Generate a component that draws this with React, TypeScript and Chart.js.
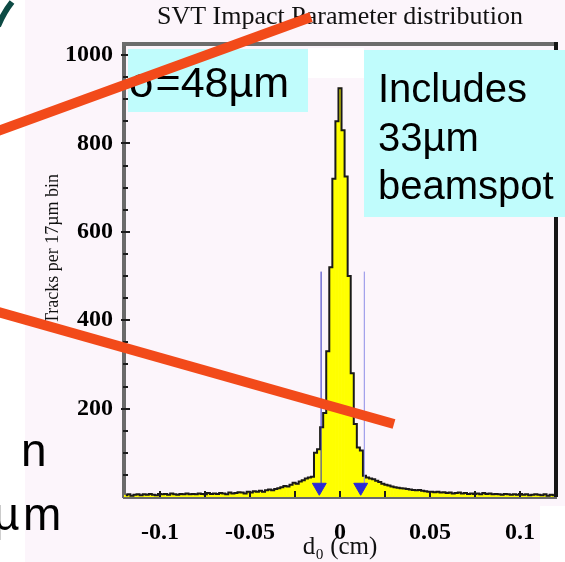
import React, { useEffect, useRef } from "react";
import { Chart, registerables } from "chart.js";

Chart.register(...registerables);

const CHART_TITLE = "SVT Impact Parameter distribution";
const X_AXIS_TITLE = "d₀ (cm)";
const Y_AXIS_TITLE = "Tracks per 17µm bin";

// 141 bins of 17 µm (0.0017 cm), first bin centred at -0.119 cm
const BIN_WIDTH_CM = 0.0017;
const FIRST_BIN_CENTER_CM = -0.119;
const trackCounts = [
  // -70 .. -60
  4, 6, 3, 5, 6, 4, 6, 5, 7, 5, 4,
  // -59 .. -50
  7, 6, 7, 5, 8, 6, 5, 7, 6, 8,
  // -49 .. -40
  6, 7, 6, 8, 7, 6, 9, 7, 8, 7,
  // -39 .. -30
  9, 8, 6, 10, 8, 9, 11, 10, 8, 12,
  // -29 .. -20
  10, 13, 12, 14, 12, 15, 17, 15, 18, 20,
  // -19 .. -9
  22, 25, 24, 28, 32, 30, 35, 38, 42, 44, 46,
  // -8 .. 8
  100, 108, 158, 190, 330, 520, 720, 850, 925, 830, 725, 500, 280, 165, 112, 105, 48,
  // 9 .. 19
  44, 42, 40, 37, 34, 30, 28, 26, 24, 22, 21,
  // 20 .. 30
  20, 19, 18, 17, 16, 15, 16, 14, 13, 12, 12,
  // 31 .. 41
  11, 12, 10, 11, 9, 10, 8, 9, 10, 8, 9,
  // 42 .. 50
  7, 8, 7, 8, 6, 9, 7, 8, 6,
  // 51 .. 60
  7, 6, 5, 7, 6, 5, 6, 5, 7, 5,
  // 61 .. 70
  6, 4, 5, 6, 5, 4, 6, 3, 5, 4,
];

const xTickValues = [-0.1, -0.05, 0, 0.05, 0.1];
const yTickValues = [200, 400, 600, 800, 1000];
const X_MIN = -0.12;
const X_MAX = 0.12;
const Y_MIN = 0;
const Y_MAX = 1025;

const cutLineX = [-0.0105, 0.0135];
const cutLineY = [20, 510];
const cutMarkerX = [-0.0115, 0.0115];
const cutMarkerY = [22, 22];

const sigmaNote = "σ=48µm";
const beamspotNote = ["Includes", "33µm", "beamspot"];
const slideFragments = ["n", "µ", "m"];

const FONT_SERIF = "'Liberation Serif', 'Times New Roman', serif";
const FONT_SANS = "'Liberation Sans', Arial, sans-serif";
const PINK = "#fcf5fb";
const CYAN = "#c0fcfc";
const RED = "#f24a1a";

const decorPlugin = {
  id: "decor",
  beforeDraw(chart: any) {
    const { ctx, width, height } = chart;
    ctx.save();
    ctx.fillStyle = "#ffffff";
    ctx.fillRect(0, 0, width, height);
    ctx.fillStyle = PINK;
    ctx.fillRect(25, 0, width - 25, 506);
    ctx.fillRect(25, 506, 540 - 25, height - 506);
    ctx.restore();
  },
  afterDraw(chart: any) {
    const { ctx, chartArea: a, scales } = chart;
    const ys = scales.y;
    const xs = scales.x;
    ctx.save();
    // frame top / right
    ctx.lineCap = "butt";
    ctx.strokeStyle = "#6c6c6c";
    ctx.lineWidth = 4;
    ctx.beginPath();
    ctx.moveTo(a.left - 2, a.top);
    ctx.lineTo(a.right, a.top);
    ctx.stroke();
    ctx.strokeStyle = "#151515";
    ctx.beginPath();
    ctx.moveTo(a.right, a.top - 2);
    ctx.lineTo(a.right, a.bottom);
    ctx.stroke();
    // y tick marks (inward)
    ctx.strokeStyle = "#1c1c1c";
    ctx.lineWidth = 2;
    for (let v = 50; v <= 1000; v += 50) {
      const py = Math.round(ys.getPixelForValue(v));
      const major = v % 200 === 0;
      ctx.beginPath();
      ctx.moveTo(a.left - (major ? 3 : 1), py);
      ctx.lineTo(a.left + (major ? 6 : 4), py);
      ctx.stroke();
    }
    // x tick marks (inward)
    for (let i = -4; i <= 4; i++) {
      const px = Math.round(xs.getPixelForValue(i * 0.025));
      ctx.beginPath();
      ctx.moveTo(px, a.bottom);
      ctx.lineTo(px, a.bottom - 6);
      ctx.stroke();
    }
    // white strip and text boxes
    ctx.fillStyle = "#ffffff";
    ctx.fillRect(308, 48, 56, 30);
    ctx.fillStyle = CYAN;
    ctx.fillRect(128, 49, 180, 63);
    ctx.fillRect(364, 50, 201, 167);
    ctx.fillStyle = "#000000";
    ctx.textAlign = "left";
    ctx.textBaseline = "alphabetic";
    ctx.font = `43px ${FONT_SANS}`;
    ctx.fillText(sigmaNote, 129, 97);
    ctx.font = `40px ${FONT_SANS}`;
    const baselines = [102, 151, 199];
    beamspotNote.forEach((t, i) => ctx.fillText(t, 378, baselines[i]));
    // slide fragments at left
    ctx.font = `46px ${FONT_SANS}`;
    ctx.fillText(slideFragments[0], 21, 466);
    ctx.fillText(slideFragments[1], -7, 530);
    ctx.fillText(slideFragments[2], 23, 530);
    // y axis title
    ctx.save();
    ctx.translate(58, 249);
    ctx.rotate(-Math.PI / 2);
    ctx.font = `18px ${FONT_SERIF}`;
    ctx.textAlign = "center";
    ctx.fillStyle = "#111111";
    ctx.fillText(Y_AXIS_TITLE, 0, 0);
    ctx.restore();
    // red lines
    ctx.strokeStyle = RED;
    ctx.lineWidth = 10;
    ctx.beginPath();
    ctx.moveTo(-2, 131);
    ctx.lineTo(311, 17);
    ctx.stroke();
    ctx.beginPath();
    ctx.moveTo(-2, 312);
    ctx.lineTo(394, 424);
    ctx.stroke();
    // green curve fragment
    ctx.strokeStyle = "#0d4a44";
    ctx.lineWidth = 6;
    ctx.beginPath();
    ctx.moveTo(-2, 26);
    ctx.quadraticCurveTo(4, 12, 12, 2);
    ctx.stroke();
    ctx.restore();
  },
};

export default function App() {
  const canvasRef = useRef<HTMLCanvasElement | null>(null);

  useEffect(() => {
    const canvas = canvasRef.current;
    if (!canvas) return;
    const histData = trackCounts.map((c, i) => ({
      x: FIRST_BIN_CENTER_CM + i * BIN_WIDTH_CM,
      y: c,
    }));
    const tickFont = { family: FONT_SERIF, size: 24, weight: "bold" as const };

    const chart = new Chart(canvas, {
      type: "bar",
      data: {
        datasets: [
          {
            type: "scatter" as any,
            data: cutMarkerX.map((x, i) => ({ x, y: cutMarkerY[i] })),
            pointStyle: "triangle",
            rotation: 180,
            radius: 8,
            backgroundColor: "#2a2ad6",
            borderColor: "#2a2ad6",
            order: 0,
          } as any,
          {
            type: "line" as any,
            data: cutLineY.map((y) => ({ x: cutLineX[0], y })),
            borderColor: "#2c2cc0",
            borderWidth: 1,
            pointRadius: 0,
            fill: false,
            order: 1,
          } as any,
          {
            type: "line" as any,
            data: cutLineY.map((y) => ({ x: cutLineX[1], y })),
            borderColor: "#8c8ce8",
            borderWidth: 1,
            pointRadius: 0,
            fill: false,
            order: 1,
          } as any,
          {
            type: "line" as any,
            data: histData,
            stepped: "middle",
            borderColor: "#1a1a1a",
            borderWidth: 2,
            pointRadius: 0,
            fill: false,
            order: 2,
          } as any,
          {
            type: "bar",
            data: histData,
            backgroundColor: "#ffff00",
            borderWidth: 0,
            barPercentage: 1,
            categoryPercentage: 1,
            order: 3,
          } as any,
        ],
      },
      options: {
        responsive: false,
        animation: false,
        devicePixelRatio: 1,
        layout: { padding: { left: 22, right: 9, top: 0, bottom: 0 } },
        plugins: {
          legend: { display: false },
          tooltip: { enabled: false },
          title: {
            display: true,
            text: CHART_TITLE,
            fullSize: false,
            color: "#111111",
            font: { family: FONT_SERIF, size: 26, weight: "normal" },
            padding: { top: 1.6, bottom: 11.2 },
          },
        },
        scales: {
          x: {
            type: "linear",
            min: X_MIN,
            max: X_MAX,
            offset: false,
            afterBuildTicks: (s: any) => {
              s.ticks = xTickValues.map((v) => ({ value: v }));
            },
            afterFit: (s: any) => {
              s.height = 65;
            },
            grid: { display: true, drawOnChartArea: false, drawTicks: false, offset: false },
            border: { display: true, color: "#6a6a6a", width: 3 },
            ticks: {
              color: "#000000",
              font: tickFont,
              padding: 21,
              maxRotation: 0,
              autoSkip: false,
              callback: (v: any) => String(v),
            },
            title: {
              display: true,
              text: X_AXIS_TITLE,
              color: "#111111",
              font: { family: FONT_SERIF, size: 25, weight: "normal" },
              padding: { top: 0, bottom: 0 },
            },
          },
          y: {
            min: Y_MIN,
            max: Y_MAX,
            afterBuildTicks: (s: any) => {
              s.ticks = yTickValues.map((v) => ({ value: v }));
            },
            afterFit: (s: any) => {
              s.width = 102;
            },
            grid: { display: true, drawOnChartArea: false, drawTicks: false },
            border: { display: true, color: "#6a6a6a", width: 4 },
            ticks: {
              color: "#000000",
              font: tickFont,
              padding: 11,
              autoSkip: false,
              callback: (v: any) => String(v),
            },
          },
        },
      } as any,
      plugins: [decorPlugin],
    });
    return () => chart.destroy();
  }, []);

  return (
    <div style={{ position: "absolute", left: 0, top: 0, width: 565, height: 562 }}>
      <canvas ref={canvasRef} width={565} height={562} style={{ display: "block" }} />
    </div>
  );
}
